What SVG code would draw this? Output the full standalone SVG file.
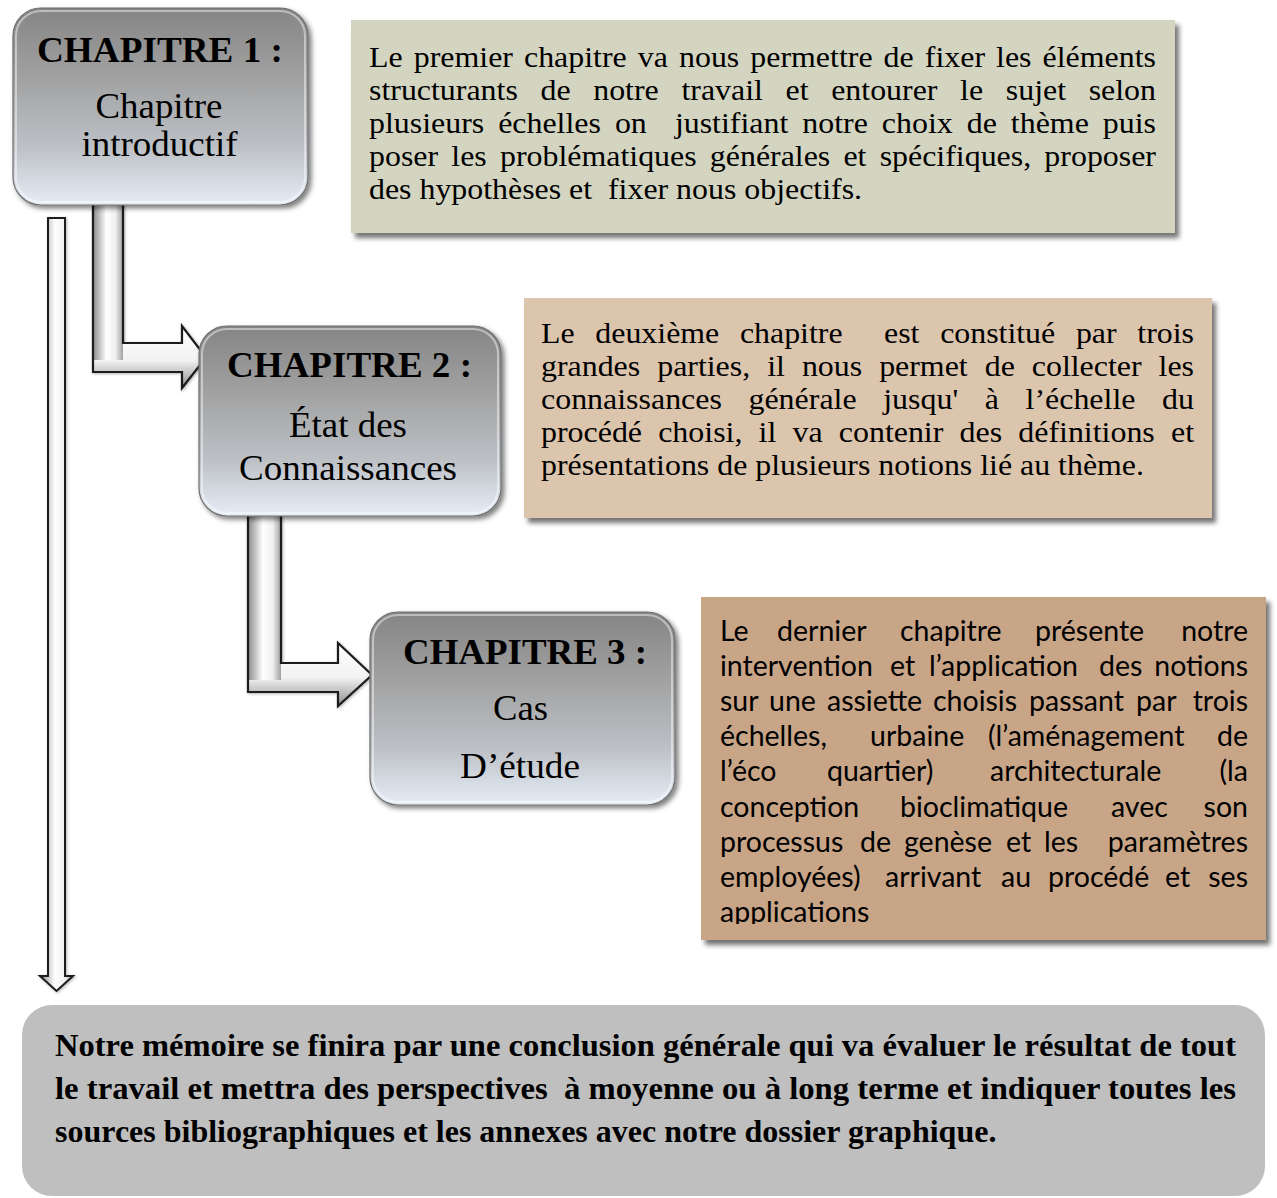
<svg xmlns="http://www.w3.org/2000/svg" width="1277" height="1198" viewBox="0 0 1277 1198">
  <style>
    .title { font-family: "Liberation Serif", "Times New Roman", Times, serif; font-weight: bold; font-size: 36px; fill: #000; text-anchor: middle; }
    .sub { font-family: "Liberation Serif", "Times New Roman", Times, serif; font-size: 35px; fill: #000; text-anchor: middle; }
    .body { font-family: "Liberation Serif", "Times New Roman", Times, serif; font-size: 30px; fill: #000; white-space: pre; }
    .sans { font-family: Lato, "Liberation Sans", sans-serif; font-size: 28.5px; fill: #000; }
    .sans-end { font-family: Lato, "Liberation Sans", sans-serif; font-size: 28.5px; fill: #000; text-anchor: end; }
    .concl { font-family: "Liberation Serif", "Times New Roman", Times, serif; font-weight: bold; font-size: 32px; fill: #000; white-space: pre; }
    .outline { fill: none; stroke: #1b1b1b; stroke-width: 2.2; stroke-linejoin: miter; }
    .node-rim { fill: none; stroke: #ffffff; stroke-opacity: 0.45; stroke-width: 2; }
  </style>
  <defs>
    <!-- chapter node fill: grey at top fading to pale blue -->
    <linearGradient id="nodeFill" x1="0" y1="0" x2="0" y2="1">
      <stop offset="0" stop-color="#858585"/>
      <stop offset="0.35" stop-color="#a1a1a1"/>
      <stop offset="0.7" stop-color="#bcc0c5"/>
      <stop offset="1" stop-color="#e6edf6"/>
    </linearGradient>
    <!-- arrow shading -->
    <linearGradient id="shaftV" x1="0" y1="0" x2="1" y2="0">
      <stop offset="0" stop-color="#8a8a8a"/>
      <stop offset="0.45" stop-color="#ffffff"/>
      <stop offset="0.75" stop-color="#f0f0f0"/>
      <stop offset="1" stop-color="#a0a0a0"/>
    </linearGradient>
    <linearGradient id="shaftH" x1="0" y1="0" x2="0" y2="1">
      <stop offset="0" stop-color="#ffffff"/>
      <stop offset="0.55" stop-color="#f2f2f2"/>
      <stop offset="1" stop-color="#8e8e8e"/>
    </linearGradient>
    <filter id="boxShadow" x="-5%" y="-5%" width="112%" height="120%">
      <feDropShadow dx="4" dy="5" stdDeviation="2.5" flood-color="#000" flood-opacity="0.55"/>
    </filter>
    <filter id="nodeShadow" x="-5%" y="-5%" width="115%" height="115%">
      <feDropShadow dx="3" dy="3" stdDeviation="2.5" flood-color="#000" flood-opacity="0.5"/>
    </filter>
    <filter id="arrowShadow" x="-20%" y="-5%" width="140%" height="110%">
      <feDropShadow dx="1" dy="1" stdDeviation="1.5" flood-color="#000" flood-opacity="0.3"/>
    </filter>
    <clipPath id="clipNote3">
      <rect x="701" y="597" width="566" height="327"/>
    </clipPath>
  </defs>

  <!-- connectors -->
  <g id="connectors">
    <!-- long arrow down to the conclusion -->
    <g id="arrow-conclusion" filter="url(#arrowShadow)">
      <path d="M48,218 H65 V976 H73 L56.5,991 L40,976 H48 Z" fill="url(#shaftV)" stroke="#1b1b1b" stroke-width="2"/>
    </g>
    <!-- chapter 1 to chapter 2 -->
    <g id="arrow-1-2" filter="url(#arrowShadow)">
      <path d="M93,343 H182 V326 L206,357.5 L182,388 V372 H93 Z" fill="url(#shaftH)"/>
      <rect x="93" y="200" width="30" height="160" fill="url(#shaftV)"/>
      <path class="outline" d="M93,200 V372 H182 V388 L206,357.5 L182,326 V343 H123 V200"/>
    </g>
    <!-- chapter 2 to chapter 3 -->
    <g id="arrow-2-3" filter="url(#arrowShadow)">
      <path d="M248,663 H338 V643 L372,675 L338,706 V692 H248 Z" fill="url(#shaftH)"/>
      <rect x="248" y="512" width="33" height="168" fill="url(#shaftV)"/>
      <path class="outline" d="M248,512 V692 H338 V706 L372,675 L338,643 V663 H281 V512"/>
    </g>
  </g>

  <!-- chapter 1 node -->
  <g id="node-ch1">
    <rect x="13" y="8" width="295" height="197" rx="28" fill="url(#nodeFill)" stroke="#6f6f6f" stroke-width="1.2" filter="url(#nodeShadow)"/>
    <rect x="16" y="11" width="289" height="191" rx="25" class="node-rim"/>
    <text class="title" x="160" y="62" textLength="246" lengthAdjust="spacingAndGlyphs">CHAPITRE 1 :</text>
    <text class="sub" x="159" y="118" textLength="127" lengthAdjust="spacingAndGlyphs">Chapitre</text>
    <text class="sub" x="159.5" y="156" textLength="156" lengthAdjust="spacingAndGlyphs">introductif</text>
  </g>

  <!-- chapter 1 summary -->
  <g id="note-ch1">
    <rect x="351" y="20" width="824" height="213" fill="#d4d5c0" filter="url(#boxShadow)"/>
    <text class="body" x="369" y="67" textLength="787" lengthAdjust="spacingAndGlyphs" style="word-spacing:2.9px">Le premier chapitre va nous permettre de fixer les éléments</text>
    <text class="body" x="369" y="100" textLength="787" lengthAdjust="spacingAndGlyphs" style="word-spacing:13.8px">structurants de notre travail et entourer le sujet selon</text>
    <text class="body" x="369" y="133" textLength="787" lengthAdjust="spacingAndGlyphs" style="word-spacing:5.7px">plusieurs échelles on  justifiant notre choix de thème puis</text>
    <text class="body" x="369" y="166" textLength="787" lengthAdjust="spacingAndGlyphs" style="word-spacing:4.9px">poser les problématiques générales et spécifiques, proposer</text>
    <text class="body" x="369" y="199" textLength="493" lengthAdjust="spacingAndGlyphs">des hypothèses et  fixer nous objectifs.</text>
  </g>

  <!-- chapter 2 node -->
  <g id="node-ch2">
    <rect x="199" y="326" width="302" height="190" rx="28" fill="url(#nodeFill)" stroke="#6f6f6f" stroke-width="1.2" filter="url(#nodeShadow)"/>
    <rect x="202" y="329" width="296" height="184" rx="25" class="node-rim"/>
    <text class="title" x="349.5" y="377" textLength="245" lengthAdjust="spacingAndGlyphs">CHAPITRE 2 :</text>
    <text class="sub" x="348" y="437" textLength="118" lengthAdjust="spacingAndGlyphs">État des</text>
    <text class="sub" x="348" y="480" textLength="218" lengthAdjust="spacingAndGlyphs">Connaissances</text>
  </g>

  <!-- chapter 2 summary -->
  <g id="note-ch2">
    <rect x="524" y="298" width="688" height="220" fill="#dcc5ad" filter="url(#boxShadow)"/>
    <text class="body" x="541" y="343" textLength="653" lengthAdjust="spacingAndGlyphs" style="word-spacing:12px">Le deuxième chapitre  est constitué par trois</text>
    <text class="body" x="541" y="376" textLength="653" lengthAdjust="spacingAndGlyphs" style="word-spacing:8.5px">grandes parties, il nous permet de collecter les</text>
    <text class="body" x="541" y="409" textLength="653" lengthAdjust="spacingAndGlyphs" style="word-spacing:17.5px">connaissances générale jusqu' à l’échelle du</text>
    <text class="body" x="541" y="442" textLength="653" lengthAdjust="spacingAndGlyphs" style="word-spacing:7.7px">procédé choisi, il va contenir des définitions et</text>
    <text class="body" x="541" y="475" textLength="603" lengthAdjust="spacingAndGlyphs">présentations de plusieurs notions lié au thème.</text>
  </g>

  <!-- chapter 3 node -->
  <g id="node-ch3">
    <rect x="370" y="612" width="305" height="193" rx="28" fill="url(#nodeFill)" stroke="#6f6f6f" stroke-width="1.2" filter="url(#nodeShadow)"/>
    <rect x="373" y="615" width="299" height="187" rx="25" class="node-rim"/>
    <text class="title" x="525" y="664" textLength="244" lengthAdjust="spacingAndGlyphs">CHAPITRE 3 :</text>
    <text class="sub" x="520.5" y="720" textLength="55" lengthAdjust="spacingAndGlyphs">Cas</text>
    <text class="sub" x="520" y="778" textLength="120" lengthAdjust="spacingAndGlyphs">D’étude</text>
  </g>

  <!-- chapter 3 summary (justified word by word, last line cut by the box) -->
  <g id="note-ch3">
    <rect x="701" y="597" width="565" height="343" fill="#c8a586" filter="url(#boxShadow)"/>
    <g clip-path="url(#clipNote3)">
      <text class="sans" y="641"><tspan x="720">Le</tspan><tspan x="777">dernier</tspan><tspan x="900">chapitre</tspan><tspan x="1035">présente</tspan></text>
      <text class="sans-end" x="1248" y="641">notre</text>
      <text class="sans" y="676"><tspan x="720">intervention</tspan><tspan x="890">et</tspan><tspan x="929">l’application</tspan><tspan x="1099">des</tspan></text>
      <text class="sans-end" x="1248" y="676">notions</text>
      <text class="sans" y="711"><tspan x="720">sur</tspan><tspan x="769">une</tspan><tspan x="827">assiette</tspan><tspan x="933">choisis</tspan><tspan x="1029">passant</tspan><tspan x="1136">par</tspan></text>
      <text class="sans-end" x="1248" y="711">trois</text>
      <text class="sans" y="746"><tspan x="720">échelles,</tspan><tspan x="870">urbaine</tspan><tspan x="988">(l’aménagement</tspan></text>
      <text class="sans-end" x="1248" y="746">de</text>
      <text class="sans" y="781"><tspan x="720">l’éco</tspan><tspan x="827">quartier)</tspan><tspan x="990">architecturale</tspan></text>
      <text class="sans-end" x="1248" y="781">(la</text>
      <text class="sans" y="817"><tspan x="720">conception</tspan><tspan x="900">bioclimatique</tspan><tspan x="1111">avec</tspan></text>
      <text class="sans-end" x="1248" y="817">son</text>
      <text class="sans" y="852"><tspan x="720">processus</tspan><tspan x="860">de</tspan><tspan x="904">genèse</tspan><tspan x="1006">et</tspan><tspan x="1044">les</tspan></text>
      <text class="sans-end" x="1248" y="852">paramètres</text>
      <text class="sans" y="887"><tspan x="720">employées)</tspan><tspan x="885">arrivant</tspan><tspan x="1001">au</tspan><tspan x="1048">procédé</tspan><tspan x="1165">et</tspan></text>
      <text class="sans-end" x="1248" y="887">ses</text>
      <text class="sans" x="720" y="922">applications</text>
    </g>
  </g>

  <!-- closing summary -->
  <g id="conclusion">
    <rect x="22" y="1005" width="1243" height="191" rx="30" fill="#bfbfbf"/>
    <text class="concl" x="55" y="1056" textLength="1181" lengthAdjust="spacingAndGlyphs">Notre mémoire se finira par une conclusion générale qui va évaluer le résultat de tout</text>
    <text class="concl" x="55" y="1099" textLength="1181" lengthAdjust="spacingAndGlyphs">le travail et mettra des perspectives  à moyenne ou à long terme et indiquer toutes les</text>
    <text class="concl" x="55" y="1142">sources bibliographiques et les annexes avec notre dossier graphique.</text>
  </g>
</svg>
